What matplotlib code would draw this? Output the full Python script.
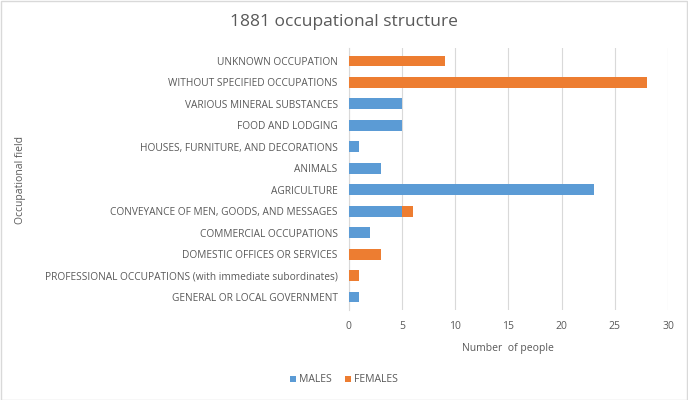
import numpy as np
import matplotlib
matplotlib.use("Agg")
from matplotlib import pyplot as plt

# categories bottom to top
fields = ["GENERAL OR LOCAL GOVERNMENT",
          "PROFESSIONAL OCCUPATIONS (with immediate subordinates)",
          "DOMESTIC OFFICES OR SERVICES",
          "COMMERCIAL OCCUPATIONS",
          "CONVEYANCE OF MEN, GOODS, AND MESSAGES",
          "AGRICULTURE",
          "ANIMALS",
          "HOUSES, FURNITURE, AND DECORATIONS",
          "FOOD AND LODGING",
          "VARIOUS MINERAL SUBSTANCES",
          "WITHOUT SPECIFIED OCCUPATIONS",
          "UNKNOWN OCCUPATION"]
males = [1, 0, 0, 2, 5, 23, 3, 1, 5, 5, 0, 0]
females = [0, 1, 3, 0, 1, 0, 0, 0, 0, 0, 28, 9]

plt.rcParams['font.family'] = ['Open Sans', 'DejaVu Sans']

fig = plt.figure(figsize=(6.88, 4.0), dpi=100)
ax = fig.add_axes([0.507, 0.225, 0.464, 0.655])

y = np.arange(len(fields))
ax.barh(y, males, height=0.5, color='#5b9bd5', label='MALES', zorder=3)
ax.barh(y, females, height=0.5, left=males, color='#ed7d31', label='FEMALES', zorder=3)

ax.set_xlim(0, 30)
ax.set_ylim(-0.6, len(fields) - 0.4)
ax.set_xticks(range(0, 31, 5))
ax.set_yticks(y)
ax.set_yticklabels(fields, fontsize=7.3, color='#595959')
ax.tick_params(axis='x', labelsize=7.5, colors='#595959', length=0, pad=8)
ax.tick_params(axis='y', length=0, pad=8)
ax.grid(axis='x', color='#d9d9d9', linewidth=0.8, zorder=0)
for s in ['top', 'right', 'bottom']:
    ax.spines[s].set_visible(False)
ax.spines['left'].set_color('#d9d9d9')

ax.set_xlabel('Number  of people', fontsize=7.5, color='#595959', labelpad=8)
fig.text(0.03, 0.55, 'Occupational field', rotation=90, fontsize=7.5,
         color='#595959', ha='center', va='center')
fig.text(0.5, 0.945, '1881 occupational structure', fontsize=12.5,
         color='#595959', ha='center', va='center')

fig.legend(loc='center', bbox_to_anchor=(0.5, 0.05), ncol=2, frameon=False,
           fontsize=7.5, handlelength=0.6, handleheight=0.6, columnspacing=1.2,
           handletextpad=0.3, labelcolor='#595959')

fig.patches.append(plt.Rectangle((0.001, 0.001), 0.997, 0.997, transform=fig.transFigure,
                                 fill=False, edgecolor='#d9d9d9', linewidth=1))

fig.savefig('out.png', dpi=100)
